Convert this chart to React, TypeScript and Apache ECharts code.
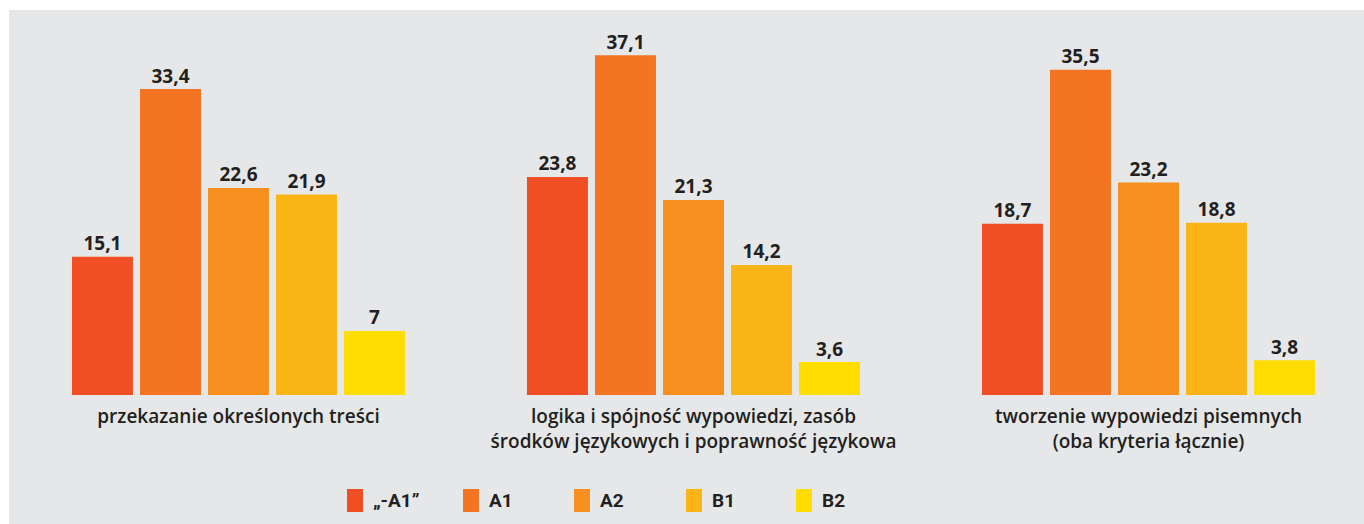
import React, { useEffect, useRef } from "react";
import * as echarts from "echarts";

const categories = [
  "przekazanie określonych treści",
  "logika i spójność wypowiedzi, zasób\nśrodków językowych i poprawność językowa",
  "tworzenie wypowiedzi pisemnych\n(oba kryteria łącznie)",
];
const seriesNames = ["„-A1”", "A1", "A2", "B1", "B2"];
const seriesColors = ["#f04e23", "#f47521", "#f7901e", "#fbb516", "#ffdd00"];
const valuesMinusA1 = [15.1, 23.8, 18.7];
const valuesA1 = [33.4, 37.1, 35.5];
const valuesA2 = [22.6, 21.3, 23.2];
const valuesB1 = [21.9, 14.2, 18.8];
const valuesB2 = [7, 3.6, 3.8];
const seriesValues = [valuesMinusA1, valuesA1, valuesA2, valuesB1, valuesB2];
const legendLefts = [347, 463, 574, 686, 796];

export default function App() {
  const ref = useRef<HTMLDivElement>(null);
  useEffect(() => {
    if (!ref.current) return;
    const chart = echarts.init(ref.current, null, { renderer: "svg" });
    chart.setOption({
      animation: false,
      backgroundColor: "#ffffff",
      graphic: [
        {
          type: "rect",
          z: -10,
          silent: true,
          shape: { x: 9, y: 10, width: 1400, height: 520 },
          style: { fill: "#e6e7e8" },
        },
      ],
      legend: seriesNames.map((name, i) => ({
        left: legendLefts[i],
        top: 489,
        padding: 0,
        itemWidth: 16,
        itemHeight: 23,
        icon: "rect",
        data: [name],
        textStyle: {
          fontFamily: "Roboto",
          fontWeight: "bold",
          fontSize: 19,
          color: "#231f20",
          padding: [0, 0, 0, 5],
        },
      })),
      grid: { left: 11, width: 1365, top: 28.6, height: 366.4 },
      xAxis: {
        type: "category",
        data: categories,
        axisLine: { show: false },
        axisTick: { show: false },
        axisLabel: {
          interval: 0,
          margin: 8,
          fontFamily: "Open Sans",
          fontWeight: 600,
          fontSize: 19,
          lineHeight: 25,
          color: "#231f20",
          align: "center",
        },
      },
      yAxis: {
        type: "value",
        min: 0,
        max: 40,
        show: false,
        splitLine: { show: false },
      },
      series: seriesNames.map((name, i) => ({
        name,
        type: "bar",
        data: seriesValues[i],
        barWidth: 61,
        barGap: "11.5%",
        itemStyle: { color: seriesColors[i] },
        label: {
          show: true,
          position: "top",
          distance: 4,
          fontFamily: "Open Sans",
          fontWeight: "bold",
          fontSize: 19,
          color: "#231f20",
          formatter: (p: any) => String(p.value).replace(".", ","),
        },
      })),
    });
    return () => chart.dispose();
  }, []);
  return (
    <div
      ref={ref}
      style={{ position: "fixed", left: 0, top: 0, width: 1400, height: 524 }}
    />
  );
}
